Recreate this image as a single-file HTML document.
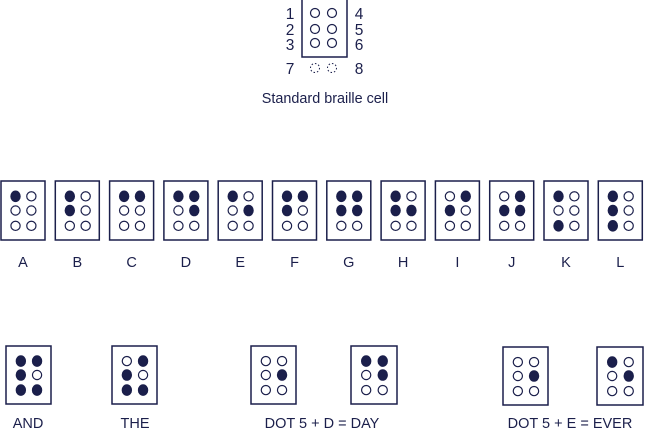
<!DOCTYPE html>
<html><head><meta charset="utf-8"><style>
html,body{margin:0;padding:0;background:#fff;}
svg{display:block;font-family:"Liberation Sans",Arial,sans-serif;}
</style></head><body>
<svg id="s" width="650" height="430" viewBox="0 0 650 430" xmlns="http://www.w3.org/2000/svg">
<g fill="#1b1f4b" font-size="15.5">
<text x="290" y="19" text-anchor="middle">1</text>
<text x="290" y="35" text-anchor="middle">2</text>
<text x="290" y="50" text-anchor="middle">3</text>
<text x="290" y="74" text-anchor="middle">7</text>
<text x="359" y="19" text-anchor="middle">4</text>
<text x="359" y="35" text-anchor="middle">5</text>
<text x="359" y="50" text-anchor="middle">6</text>
<text x="359" y="74" text-anchor="middle">8</text>
<text x="325" y="103" text-anchor="middle" font-size="14.4">Standard braille cell</text>
</g>
<path d="M302 0 V57 H347 V0" fill="none" stroke="#1b1f4b" stroke-width="1.5"/>
<g fill="none" stroke="#1b1f4b" stroke-width="1.2">
<circle cx="315" cy="13" r="4.5"/><circle cx="332" cy="13" r="4.5"/>
<circle cx="315" cy="29" r="4.5"/><circle cx="332" cy="29" r="4.5"/>
<circle cx="315" cy="43" r="4.5"/><circle cx="332" cy="43" r="4.5"/>
<circle cx="315" cy="68" r="4.5" stroke-dasharray="1.5 2" stroke-width="1"/>
<circle cx="332" cy="68" r="4.5" stroke-dasharray="1.5 2" stroke-width="1"/>
</g>
<g id="cells"></g>
</svg>
<script>
var C="#1b1f4b",g=document.getElementById("cells"),h="";
function cell(x,y,w,hh,dots,label,lx,ly){
 h+='<rect x="'+x+'" y="'+y+'" width="'+w+'" height="'+hh+'" fill="none" stroke="'+C+'" stroke-width="1.5"/>';
 var cx=[x+w*0.33,x+w*0.69], cy=[y+hh*0.26,y+hh*0.50,y+hh*0.76];
 for(var i=1;i<=6;i++){var c=cx[i>3?1:0],r=cy[(i-1)%3],f=dots.indexOf(i)>=0;
  h+='<ellipse cx="'+c+'" cy="'+r+'" rx="4.6" ry="'+(f?5.2:4.6)+'" fill="'+(f?C:"#fff")+'" stroke="'+C+'" stroke-width="1.2"/>';}
 if(label)h+='<text x="'+lx+'" y="'+ly+'" text-anchor="middle" font-size="14.5" fill="'+C+'">'+label+'</text>';
}
var L=[["A",[1]],["B",[1,2]],["C",[1,4]],["D",[1,4,5]],["E",[1,5]],["F",[1,2,4]],["G",[1,2,4,5]],["H",[1,2,5]],["I",[2,4]],["J",[2,4,5]],["K",[1,3]],["L",[1,2,3]]];
for(var i=0;i<12;i++){var x=1+i*54.3;cell(x,181,44,59,L[i][1],L[i][0],x+22,267);}
cell(6,346,45,58,[1,2,3,4,6],"AND",28,428);
cell(112,346,45,58,[2,3,4,6],"THE",135,428);
cell(251,346,45,58,[5],"DOT 5 + D = DAY",322,428);
cell(351,346,46,58,[1,4,5],"",0,0);
cell(503,347,45,58,[5],"DOT 5 + E = EVER",570,428);
cell(597,347,46,58,[1,5],"",0,0);
g.innerHTML=h;
</script>
</body></html>
